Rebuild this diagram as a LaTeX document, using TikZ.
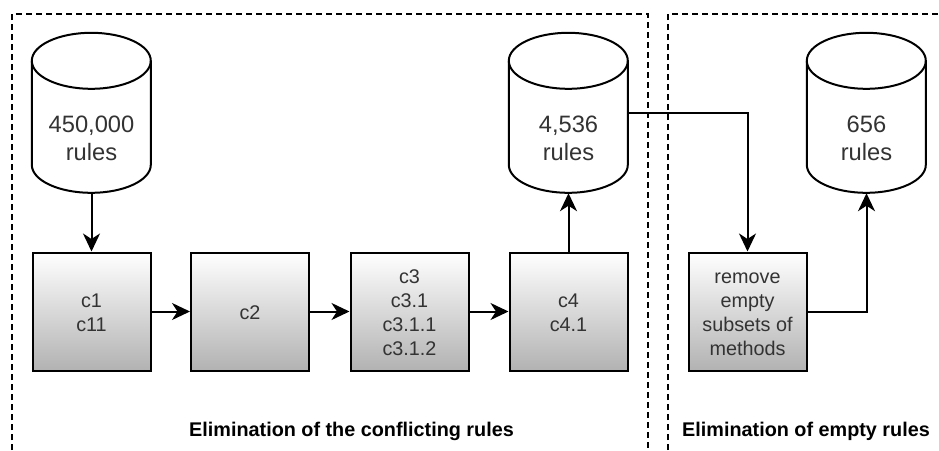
\documentclass[tikz,border=0pt]{standalone}
\usepackage{fontspec}
\setmainfont{Liberation Sans}
\usetikzlibrary{arrows.meta}
\definecolor{txt}{HTML}{333333}
\definecolor{boxlow}{HTML}{B2B2B2}
\newcommand{\lowerline}{\rule{0pt}{16.5pt}}
\tikzset{
  x=1pt,y=-1pt,
  box/.style={draw=black,line width=2pt,minimum width=118pt,minimum height=118pt,inner sep=0pt,
    top color=white,bottom color=boxlow,text=txt,align=center,
    font=\fontsize{19.8}{24}\selectfont},
  dbbody/.style={minimum width=119pt,minimum height=160pt,inner sep=0pt},
  dbtext/.style={text=txt,align=center,font=\fontsize{23.7}{28}\selectfont,inner sep=0pt},
  region/.style={draw=black,line width=1.6pt,dash pattern=on 6pt off 4pt},
  conn/.style={draw=black,line width=2pt,-{Stealth[length=18pt,width=17pt,inset=5.5pt]}},
  title/.style={font=\bfseries\fontsize{19.8}{24}\selectfont,text=black,inner sep=0pt},
}
\newcommand{\cyl}[1]{%
  \draw[line width=2pt,fill=white]
    (#1.north west) ++(0,28) arc[start angle=180,end angle=0,x radius=59.5pt,y radius=28pt]
    -- ++(0,104) arc[start angle=0,end angle=-180,x radius=59.5pt,y radius=28pt] -- cycle;
  \draw[line width=2pt] (#1.north west) ++(0,28)
    arc[start angle=180,end angle=360,x radius=59.5pt,y radius=28pt];
}
\begin{document}
\begin{tikzpicture}
\useasboundingbox (0,0) rectangle (939,450);
\fill[white] (0,0) rectangle (939,450);
\coordinate (ra) at (12,450); \coordinate (rb) at (12,14); \coordinate (rc) at (648,14); \coordinate (rd) at (648,450);
\coordinate (sa) at (668,450); \coordinate (sb) at (668,14); \coordinate (sc) at (939,14);
\draw[region] (ra) -- (rb) -- (rc) -- (rd);
\draw[region] (sa) -- (sb) -- (sc);
\node[dbbody] (db1) at (91.5,113) {};
\node[dbbody] (db2) at (568.5,113) {};
\node[dbbody] (db3) at (866.5,113) {};
\cyl{db1}\cyl{db2}\cyl{db3}
\node[dbtext] (t1) at (91.5,138) {450,000\\rules};
\node[dbtext] (t2) at (568.5,138) {4,536\\rules};
\node[dbtext] (t3) at (866.5,138) {656\\rules};
\node[box] (c1) at (91.5,311.5) {\lowerline c1\\c11};
\node[box] (c2) at (250,311.5) {\lowerline c2};
\node[box] (c3) at (409.5,311.5) {\lowerline c3\\c3.1\\c3.1.1\\c3.1.2};
\node[box] (c4) at (568.5,311.5) {\lowerline c4\\c4.1};
\node[box] (c5) at (747.5,311.5) {\lowerline remove\\empty\\subsets of\\methods};
\draw[conn] (db1.south) -- (c1.north);
\draw[conn] (c1) -- (c2);
\draw[conn] (c2) -- (c3);
\draw[conn] (c3) -- (c4);
\draw[conn] (c4.north) -- (db2.south);
\draw[conn] (db2.east) -| (c5.north);
\draw[conn] (c5.east) -| (db3.south);
\node[title] (l1) at (351.5,431) {Elimination of the conflicting rules};
\node[title] (l2) at (806,431) {Elimination of empty rules};
\end{tikzpicture}
\end{document}
